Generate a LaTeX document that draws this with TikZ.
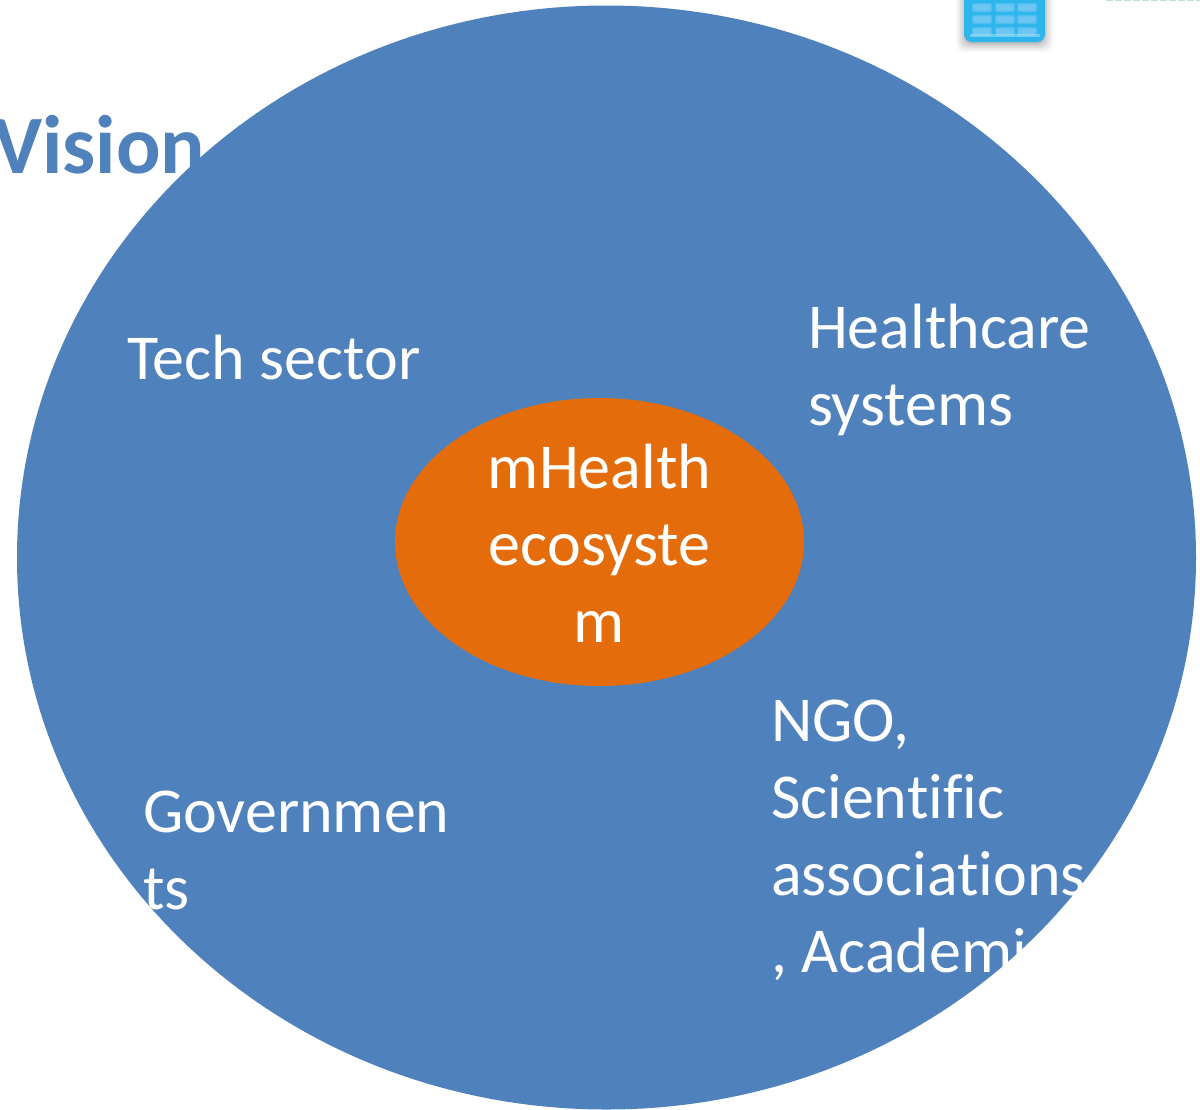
\documentclass[tikz,border=0pt]{standalone}
\usepackage{fontspec}
\usetikzlibrary{shapes.geometric}
\setmainfont[Ligatures=NoCommon]{Carlito}
\definecolor{circblue}{HTML}{4F81BD}
\definecolor{ovalorange}{HTML}{E46C0A}
\definecolor{phoneblue}{HTML}{2DB6EC}
\definecolor{phonecell}{HTML}{7CCBF6}
\definecolor{palegreen}{HTML}{BFE0D0}
\tikzset{
  lbl/.style={text=white,inner sep=0pt,outer sep=0pt,font=\fontsize{64}{77}\selectfont},
  lblleft/.style={lbl,align=left,anchor=base west},
  lblmid/.style={lbl,align=center,anchor=base},
  cellbox/.style={fill=phonecell,opacity=0.45,rounded corners=2pt,draw=none}
}
\begin{document}
\begin{tikzpicture}[x=1pt,y=-1pt]
\useasboundingbox (0,0) rectangle (1200,1109);
\clip (0,0) rectangle (1200,1109);
\fill[white] (0,0) rectangle (1200,1109);
% phone icon (only its lower end is in frame)
\foreach \o/\e in {0.03/8,0.04/6,0.05/4,0.07/2,0.09/0}{
  \fill[black,opacity=\o,rounded corners=8pt] (964-\e,-20) rectangle (1045+\e,44+\e);
}
\fill[phoneblue,rounded corners=8pt] (964,-20) rectangle (1045,42);
\foreach \x in {972,995,1017}{
  \foreach \y in {3,15,27}{
    \fill[cellbox] (\x,\y) rectangle (\x+20,\y+9);
    \fill[cellbox] (\x+1,\y+1) rectangle (\x+19,\y+8);
    \fill[cellbox] (\x+2,\y+2) rectangle (\x+18,\y+7);
  }
}
\fill[white,opacity=0.3] (970,34) rectangle (1040,37);
\draw[palegreen,line width=2pt,dash pattern=on 7pt off 2pt] (1106,0) -- (1200,0);
% title, overlapped by the circle
\node[anchor=base west,inner sep=0pt,text=circblue,font=\fontsize{83}{90}\selectfont\bfseries] (vision) at (-7,173) {Vision};
% circles
\node[ellipse,fill=circblue,inner sep=0pt,minimum width=1179pt,minimum height=1104pt,anchor=center] (outer) at (606.5,557.5) {};
\node[ellipse,fill=ovalorange,inner sep=0pt,minimum width=409pt,minimum height=288pt,anchor=center] (core) at (599.5,542) {};
% labels
\node[lblmid] (mh) at (599.5,642) {mHealth\\ecosyste\\m};
\node[lblleft] (tech) at (127,379) {Tech sector};
\node[lblleft] (hc) at (808,425) {Healthcare\\systems};
\node[lblleft] (gov) at (143,909) {Governmen\\ts};
\node[lblleft] (ngo) at (771,972) {NGO,\\Scientific\\associations\\, Academia};
\end{tikzpicture}
\end{document}
